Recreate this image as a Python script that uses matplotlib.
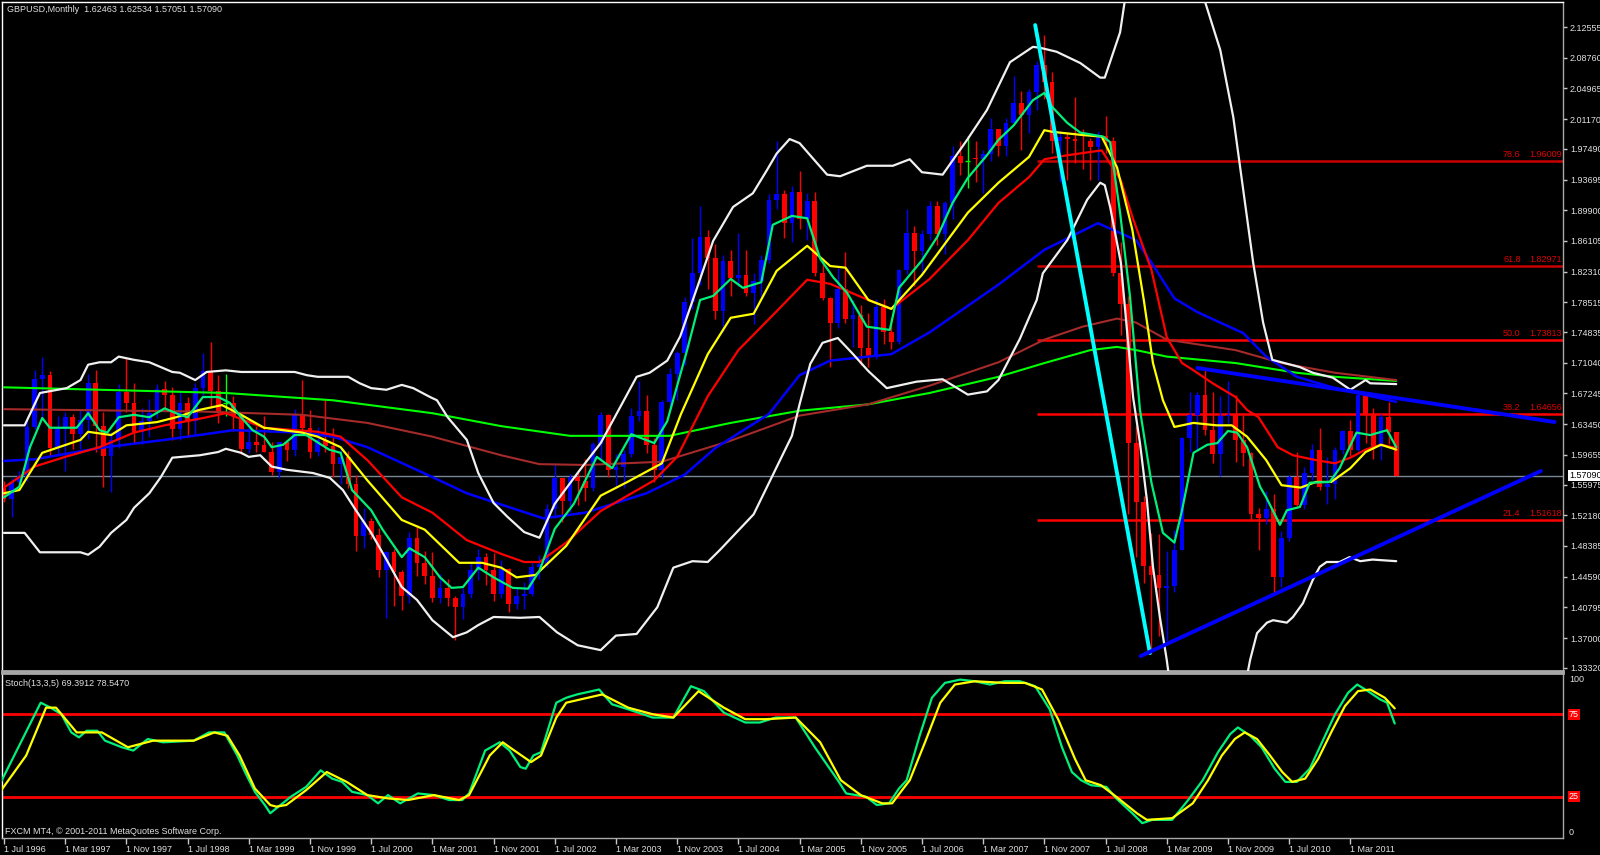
#!/usr/bin/env python3
"""GBPUSD monthly, MT4 black style: candles, moving averages, Bollinger bands,
fib levels, trend lines and a Stoch(13,3,5) pane underneath."""

import numpy as np
import matplotlib
matplotlib.use('Agg')
import matplotlib.pyplot as plt

# ── monthly bars, index 0 = Jul 1996 ... 182 = Sep 2011 ────────────────
opens = [
    1.5555, 1.5420, 1.5630, 1.5690, 1.6310, 1.6900,                                   # 1996
    1.6950, 1.6050, 1.6280, 1.6430, 1.6220, 1.6390, 1.6850, 1.6320, 1.5950, 1.6150, 1.6740, 1.6600,
    1.6250, 1.6380, 1.6480, 1.6780, 1.6710, 1.6290, 1.6600, 1.6380, 1.6790, 1.7000, 1.6760, 1.6600,
    1.6600, 1.6450, 1.6040, 1.6120, 1.6090, 1.6000, 1.5750, 1.6120, 1.6020, 1.6470, 1.6300, 1.6000,
    1.6150, 1.6080, 1.5850, 1.5940, 1.5600, 1.4960, 1.5150, 1.4970, 1.4540, 1.4760, 1.4520, 1.4220,
    1.4940, 1.4630, 1.4470, 1.4190, 1.4320, 1.4190, 1.4080, 1.4240, 1.4540, 1.4700, 1.4540, 1.4250,
    1.4550, 1.4120, 1.4220, 1.4240, 1.4580, 1.4610, 1.5300, 1.5680, 1.5400, 1.5690, 1.5640, 1.5560,
    1.6100, 1.6460, 1.5780, 1.5810, 1.5980, 1.6440, 1.6510, 1.6090, 1.5780, 1.6620, 1.6960, 1.7230,
    1.7860, 1.8210, 1.8660, 1.8400, 1.7750, 1.8360, 1.8150, 1.8190, 1.7970, 1.8120, 1.8380, 1.9120,
    1.9190, 1.8830, 1.9210, 1.8880, 1.9100, 1.8210, 1.7910, 1.7590, 1.8020, 1.7640, 1.7700, 1.7290,
    1.7190, 1.7790, 1.7480, 1.7360, 1.8250, 1.8710, 1.8490, 1.8690, 1.9040, 1.8700, 1.9080, 1.9660,
    1.9600, 1.9640, 1.9620, 1.9680, 1.9990, 1.9790, 2.0070, 2.0320, 2.0170, 2.0450, 2.0790, 2.0570,
    1.9850, 1.9890, 1.9870, 1.9850, 1.9840, 1.9770, 1.9910, 1.9850, 1.8210, 1.7830, 1.6110, 1.5380,
    1.4590, 1.4480, 1.4320, 1.4340, 1.4790, 1.6170, 1.6460, 1.6700, 1.6270, 1.5980, 1.6450, 1.6460,
    1.6150, 1.5990, 1.5230, 1.5180, 1.5300, 1.4460, 1.4940, 1.5690, 1.5340, 1.5740, 1.6030, 1.5570,
    1.5610, 1.6020, 1.6260, 1.6030, 1.6700, 1.6460, 1.6060, 1.6430, 1.62463,                  # 2011
]
highs = [
    1.5640, 1.5680, 1.5760, 1.6400, 1.7010, 1.7170,
    1.7000, 1.6440, 1.6500, 1.6470, 1.6530, 1.6960, 1.7010, 1.6500, 1.6250, 1.6840, 1.7160, 1.6850,
    1.6550, 1.6650, 1.6840, 1.6880, 1.6800, 1.6740, 1.6680, 1.6850, 1.7230, 1.7360, 1.6950, 1.6960,
    1.6690, 1.6480, 1.6420, 1.6320, 1.6440, 1.6130, 1.6120, 1.6140, 1.6530, 1.6890, 1.6520, 1.6310,
    1.6640, 1.6300, 1.6060, 1.6010, 1.5710, 1.5310, 1.5190, 1.5060, 1.4780, 1.4800, 1.4540, 1.5010,
    1.5100, 1.4780, 1.4760, 1.4490, 1.4430, 1.4220, 1.4320, 1.4640, 1.4800, 1.4750, 1.4750, 1.4660,
    1.4560, 1.4320, 1.4390, 1.4640, 1.4730, 1.5360, 1.5850, 1.5680, 1.5730, 1.5750, 1.5910, 1.6130,
    1.6500, 1.6470, 1.5980, 1.6030, 1.6540, 1.6880, 1.6700, 1.6170, 1.6640, 1.7040, 1.7250, 1.7920,
    1.8650, 1.9046, 1.8750, 1.8570, 1.8440, 1.8500, 1.8710, 1.8500, 1.8210, 1.8440, 1.9190, 1.9850,
    1.9245, 1.9290, 1.9480, 1.9200, 1.9220, 1.8400, 1.7920, 1.8280, 1.8475, 1.7880, 1.7820, 1.7720,
    1.7887, 1.7890, 1.7643, 1.8260, 1.9000, 1.8800, 1.8750, 1.9110, 1.9110, 1.9100, 1.9780, 1.9850,
    1.9914, 1.9845, 1.9732, 2.0133, 2.0000, 2.0130, 2.0656, 2.0465, 2.0490, 2.0835, 2.1161, 2.0697,
    1.9970, 1.9953, 2.0395, 2.0000, 1.9880, 1.9970, 2.0157, 1.9900, 1.8600, 1.7930, 1.6320, 1.5450,
    1.5000, 1.4985, 1.4780, 1.5031, 1.6190, 1.6744, 1.6742, 1.7043, 1.6745, 1.6693, 1.6877, 1.6705,
    1.6458, 1.6000, 1.5312, 1.5523, 1.5485, 1.5028, 1.5720, 1.5995, 1.5818, 1.6105, 1.6298, 1.5936,
    1.6060, 1.6278, 1.6402, 1.6746, 1.6745, 1.6546, 1.6475, 1.6618, 1.62534,
]
lows = [
    1.5380, 1.5200, 1.5550, 1.5640, 1.6280, 1.6420,
    1.5950, 1.5980, 1.5770, 1.6040, 1.6040, 1.6160, 1.6000, 1.5570, 1.5510, 1.6050, 1.6500, 1.6100,
    1.6100, 1.6180, 1.6420, 1.6540, 1.6150, 1.6150, 1.6190, 1.6220, 1.6700, 1.6550, 1.6360, 1.6440,
    1.6260, 1.5980, 1.5990, 1.6000, 1.6000, 1.5720, 1.5680, 1.5890, 1.5950, 1.6250, 1.5920, 1.5950,
    1.6000, 1.5690, 1.5600, 1.5550, 1.4770, 1.4810, 1.4930, 1.4450, 1.3950, 1.4100, 1.4050, 1.4130,
    1.4470, 1.4370, 1.4150, 1.4130, 1.4090, 1.3680, 1.3940, 1.4190, 1.4420, 1.4350, 1.4160, 1.4200,
    1.4020, 1.4060, 1.4060, 1.4220, 1.4430, 1.4580, 1.5190, 1.5130, 1.5260, 1.5350, 1.5390, 1.5520,
    1.5890, 1.5690, 1.5560, 1.5550, 1.5940, 1.6380, 1.5990, 1.5630, 1.5680, 1.6520, 1.6640, 1.7080,
    1.7770, 1.8070, 1.8020, 1.7640, 1.7480, 1.7930, 1.8050, 1.7930, 1.7580, 1.7900, 1.8340, 1.9000,
    1.8650, 1.8600, 1.8760, 1.8620, 1.8180, 1.7880, 1.7050, 1.7530, 1.7590, 1.7300, 1.7080, 1.7050,
    1.7145, 1.7335, 1.7275, 1.7330, 1.8200, 1.8050, 1.8200, 1.8620, 1.8565, 1.8450, 1.8880, 1.9430,
    1.9260, 1.9340, 1.9198, 1.9600, 1.9660, 1.9660, 2.0060, 1.9735, 1.9945, 2.0225, 2.0364, 1.9700,
    1.9340, 1.9360, 1.9575, 1.9502, 1.9360, 1.9365, 1.9702, 1.8174, 1.7450, 1.5230, 1.4700, 1.4380,
    1.3503, 1.3720, 1.3657, 1.4271, 1.4786, 1.5997, 1.6019, 1.6213, 1.5858, 1.5708, 1.6358, 1.5880,
    1.5833, 1.5151, 1.4784, 1.5105, 1.4229, 1.4328, 1.4900, 1.5330, 1.5295, 1.5650, 1.5536, 1.5351,
    1.5420, 1.5977, 1.5951, 1.6012, 1.6113, 1.5910, 1.5904, 1.6102, 1.57051,
]
closes = [
    1.5420, 1.5630, 1.5700, 1.6310, 1.6900, 1.6950,
    1.6050, 1.6280, 1.6430, 1.6220, 1.6390, 1.6850, 1.6320, 1.5950, 1.6150, 1.6740, 1.6600, 1.6250,
    1.6380, 1.6480, 1.6780, 1.6710, 1.6290, 1.6600, 1.6380, 1.6790, 1.7000, 1.6760, 1.6490, 1.6600,
    1.6450, 1.6040, 1.6120, 1.6090, 1.6000, 1.5750, 1.6120, 1.6020, 1.6470, 1.6300, 1.6000, 1.6150,
    1.6080, 1.5850, 1.5940, 1.5600, 1.4960, 1.5150, 1.4970, 1.4540, 1.4760, 1.4520, 1.4220, 1.4940,
    1.4630, 1.4470, 1.4190, 1.4320, 1.4190, 1.4080, 1.4240, 1.4540, 1.4700, 1.4540, 1.4250, 1.4550,
    1.4120, 1.4220, 1.4240, 1.4580, 1.4610, 1.5300, 1.5680, 1.5400, 1.5690, 1.5640, 1.5560, 1.6100,
    1.6460, 1.5780, 1.5810, 1.5980, 1.6440, 1.6510, 1.6090, 1.5780, 1.6620, 1.6960, 1.7230, 1.7860,
    1.8210, 1.8660, 1.8400, 1.7750, 1.8360, 1.8150, 1.8190, 1.7970, 1.8120, 1.8380, 1.9120, 1.9190,
    1.8830, 1.9210, 1.8880, 1.9100, 1.8210, 1.7910, 1.7590, 1.8020, 1.7640, 1.7700, 1.7290, 1.7190,
    1.7790, 1.7480, 1.7360, 1.8250, 1.8710, 1.8490, 1.8690, 1.9040, 1.8700, 1.9080, 1.9660, 1.9580,
    1.9600, 1.9620, 1.9680, 1.9990, 1.9790, 2.0070, 2.0320, 2.0170, 2.0450, 2.0790, 2.0570, 1.9850,
    1.9890, 1.9870, 1.9850, 1.9840, 1.9770, 1.9910, 1.9850, 1.8210, 1.7830, 1.6110, 1.5380, 1.4590,
    1.4480, 1.4320, 1.4340, 1.4790, 1.6170, 1.6460, 1.6700, 1.6270, 1.5980, 1.6450, 1.6460, 1.6150,
    1.5990, 1.5230, 1.5180, 1.5300, 1.4460, 1.4940, 1.5690, 1.5340, 1.5740, 1.6030, 1.5570, 1.5610,
    1.6020, 1.6260, 1.6030, 1.6700, 1.6460, 1.6060, 1.6430, 1.6246, 1.57090,
]

# ── indicator lines: (bar, price) ──────────────────────────────────────
ma_fast = [  # spring green
    (0, 1.544), (2, 1.557), (3.4, 1.606), (5, 1.642), (6, 1.630), (9.5, 1.630), (11, 1.648),
    (12.5, 1.627), (13.5, 1.624), (15, 1.643), (17, 1.646), (19, 1.643), (21, 1.654), (23, 1.646),
    (24, 1.643), (26, 1.668), (28, 1.668), (29.5, 1.661), (31, 1.643), (32.5, 1.627), (34, 1.619),
    (35, 1.606), (36.5, 1.609), (38, 1.621), (39.5, 1.621), (42.5, 1.603), (44, 1.599), (45.5, 1.553),
    (48, 1.528), (49.5, 1.504), (52, 1.470), (53, 1.481), (55, 1.470), (57, 1.445), (58.5, 1.432),
    (60, 1.433), (62, 1.457), (64, 1.445), (66.5, 1.432), (68.5, 1.431), (70, 1.453), (72, 1.505),
    (74.5, 1.536), (77.5, 1.594), (79.5, 1.580), (82, 1.622), (85, 1.611), (86.7, 1.638), (89.3, 1.726),
    (91, 1.788), (92.7, 1.793), (95, 1.814), (96.6, 1.803), (99, 1.810), (100.5, 1.881), (103, 1.892),
    (105, 1.889), (106.7, 1.839), (108.4, 1.816), (110.2, 1.797), (112.8, 1.755), (115.8, 1.751),
    (117, 1.803), (120, 1.837), (122, 1.866), (124, 1.908), (126, 1.939), (128.5, 1.967), (130, 1.986),
    (132, 2.004), (134.5, 2.035), (136, 2.044), (137, 2.027), (139, 2.007), (140.7, 1.995),
    (143.7, 1.990), (144.6, 1.983), (145.9, 1.896), (147.2, 1.792), (148.5, 1.652), (150, 1.562),
    (151.5, 1.500), (153, 1.488), (154, 1.528), (155.5, 1.599), (157.3, 1.609), (158.6, 1.611),
    (160, 1.626), (161.2, 1.624), (162.5, 1.606), (164.2, 1.557), (165, 1.544), (166.8, 1.510),
    (167.7, 1.528), (169.4, 1.532), (170.7, 1.562), (173.3, 1.563), (174.6, 1.580), (176.8, 1.624),
    (178.6, 1.621), (180.8, 1.627), (182, 1.606),
]
ma_yellow = [
    (0, 1.549), (2, 1.553), (5, 1.599), (10, 1.615), (11, 1.625), (14, 1.621), (16, 1.633),
    (20, 1.637), (22.5, 1.643), (25.5, 1.652), (28.5, 1.658), (31, 1.646), (34, 1.630), (39, 1.624),
    (41, 1.619), (44, 1.606), (47.5, 1.565), (52, 1.516), (55, 1.504), (59.5, 1.463), (62.5, 1.463),
    (65, 1.457), (67, 1.445), (69.5, 1.448), (73.5, 1.484), (78, 1.546), (81.5, 1.563), (86, 1.586),
    (88.5, 1.647), (92, 1.721), (95, 1.766), (98, 1.771), (101, 1.824), (105, 1.855), (108, 1.830),
    (110, 1.828), (113, 1.788), (116, 1.777), (120, 1.819), (126, 1.896), (130, 1.933), (134, 1.965),
    (136, 1.998), (137, 1.996), (141, 1.992), (143.5, 1.990), (145.5, 1.952), (147.5, 1.875),
    (149, 1.788), (150.2, 1.710), (151.5, 1.664), (153, 1.631), (155.5, 1.636), (158.5, 1.633),
    (160.5, 1.633), (162.5, 1.619), (165, 1.590), (167, 1.559), (169.5, 1.556), (171.5, 1.563),
    (173.5, 1.563), (176, 1.580), (178, 1.600), (180, 1.609), (182, 1.603),
]
ma_red = [
    (0, 1.556), (4, 1.582), (8, 1.594), (12.5, 1.606), (17, 1.624), (21, 1.633), (26, 1.642),
    (29, 1.648), (34, 1.630), (41, 1.625), (44, 1.619), (47.5, 1.590), (52, 1.544), (56, 1.525),
    (60.5, 1.491), (65, 1.474), (68, 1.464), (70, 1.464), (73.5, 1.488), (78, 1.527), (85, 1.565),
    (88, 1.594), (92, 1.669), (96, 1.726), (101, 1.774), (105, 1.813), (108, 1.808), (113, 1.788),
    (116, 1.777), (121, 1.814), (126, 1.862), (130, 1.908), (134, 1.940), (136, 1.962), (139, 1.967),
    (143.5, 1.973), (146, 1.936), (147.5, 1.891), (150, 1.825), (152, 1.742), (154, 1.710),
    (155.5, 1.701), (158, 1.685), (161, 1.668), (162.5, 1.652), (164, 1.643), (166.5, 1.606),
    (168.5, 1.596), (171.5, 1.590), (174, 1.586), (176, 1.593), (178, 1.603), (180, 1.609), (182, 1.605),
]
ma_blue = [
    (0, 1.589), (4, 1.591), (12.5, 1.605), (21, 1.615), (30, 1.627), (39, 1.624), (43, 1.619),
    (47.5, 1.606), (56, 1.569), (60.5, 1.549), (65, 1.535), (70.5, 1.518), (76, 1.525), (84, 1.549),
    (89, 1.572), (93, 1.605), (100, 1.647), (104, 1.695), (108, 1.713), (116, 1.721), (121, 1.748),
    (130, 1.807), (136, 1.850), (143, 1.883), (148, 1.862), (150, 1.834), (153, 1.790), (156, 1.773),
    (162, 1.747), (165, 1.718), (169, 1.693), (174, 1.679), (182, 1.662),
]
ma_brown = [
    (0, 1.653), (26, 1.650), (39, 1.646), (47.5, 1.636), (56, 1.619), (65, 1.596), (70, 1.585),
    (76, 1.584), (86, 1.588), (95, 1.614), (104, 1.645), (113, 1.659), (121, 1.682), (130, 1.711),
    (136, 1.739), (141, 1.755), (145.5, 1.765), (148, 1.760), (152, 1.739), (161, 1.726),
    (167, 1.710), (174, 1.698), (182, 1.689),
]
ma_lime = [
    (0, 1.680), (12.5, 1.677), (29, 1.673), (43, 1.664), (56, 1.648), (65, 1.632), (74, 1.620),
    (87, 1.620), (95, 1.636), (104, 1.651), (113, 1.659), (121, 1.673), (130, 1.693), (136, 1.710),
    (142, 1.726), (145.5, 1.730), (148, 1.726), (152, 1.718), (161, 1.710), (165, 1.704),
    (169, 1.698), (174, 1.693), (182, 1.688),
]
bb_upper = [
    (0, 1.633), (2.7, 1.633), (4.7, 1.673), (8.2, 1.679), (10, 1.689), (11, 1.708), (12.5, 1.711),
    (14, 1.711), (15, 1.718), (17, 1.714), (19, 1.711), (20.5, 1.705), (22, 1.699), (23, 1.698),
    (25, 1.689), (25.6, 1.693), (26.5, 1.699), (29, 1.701), (31, 1.699), (38, 1.699), (39.6, 1.695),
    (41, 1.693), (45, 1.693), (46.5, 1.685), (48, 1.679), (50, 1.677), (52, 1.683), (53.5, 1.679),
    (55.7, 1.668), (56.6, 1.664), (58, 1.643), (60.5, 1.615), (62, 1.574), (64, 1.537), (65.8, 1.520),
    (68, 1.501), (70, 1.494), (72, 1.536), (75.3, 1.578), (78, 1.611), (82.7, 1.693), (84.4, 1.698),
    (86.7, 1.713), (88.4, 1.743), (91, 1.814), (92.7, 1.861), (95.3, 1.903), (97.9, 1.920),
    (99.7, 1.948), (101, 1.969), (102.7, 1.987), (104, 1.982), (107.6, 1.943), (109.3, 1.941),
    (112.8, 1.954), (116.2, 1.954), (118.4, 1.962), (120, 1.946), (122.7, 1.943), (125.9, 1.986),
    (128.5, 2.023), (131.5, 2.082), (134.5, 2.101), (135.4, 2.100), (137.6, 2.095), (140.7, 2.081),
    (143.3, 2.063), (143.9, 2.063), (145.9, 2.119), (146.5, 2.157), (149, 2.33), (153, 2.40),
    (156, 2.30), (157, 2.157), (159, 2.097), (160.7, 2.014), (163.3, 1.834), (164.6, 1.760),
    (165.8, 1.714), (169.4, 1.705), (171.1, 1.698), (173.7, 1.692), (176, 1.677), (178, 1.689),
    (178.6, 1.685), (182, 1.684),
]
bb_lower = [
    (0, 1.500), (2.7, 1.500), (4.7, 1.476), (10, 1.476), (11, 1.473), (12.5, 1.483), (14, 1.500),
    (16, 1.516), (17, 1.531), (19, 1.549), (20.5, 1.569), (22, 1.593), (25.6, 1.596), (28, 1.600),
    (29, 1.604), (31, 1.599), (32, 1.594), (33.5, 1.596), (35, 1.582), (37, 1.578), (40.4, 1.574),
    (42.6, 1.568), (44.3, 1.553), (46, 1.528), (48, 1.500), (50, 1.467), (52, 1.433), (54, 1.417),
    (56, 1.392), (58.7, 1.371), (60.5, 1.377), (62, 1.386), (64, 1.396), (67.5, 1.395), (70, 1.396),
    (72.3, 1.377), (75, 1.361), (78, 1.355), (80, 1.373), (82.7, 1.375), (85.4, 1.408), (87.5, 1.457),
    (90, 1.465), (92, 1.464), (93.6, 1.479), (98, 1.523), (101.4, 1.589), (103, 1.620), (104, 1.659),
    (105.4, 1.709), (107, 1.735), (109, 1.741), (111, 1.721), (113, 1.700), (115.4, 1.679),
    (119.3, 1.687), (122.7, 1.690), (126, 1.671), (128.5, 1.675), (130, 1.689), (132.8, 1.740),
    (135, 1.788), (135.8, 1.821), (139, 1.862), (141.6, 1.912), (143.3, 1.933), (143.9, 1.930),
    (144.6, 1.903), (146, 1.834), (146.8, 1.751), (147.6, 1.668), (148.5, 1.611), (149.4, 1.541),
    (150.2, 1.458), (151.1, 1.396), (152, 1.343), (154, 1.20), (158, 1.15), (161, 1.25),
    (162.9, 1.343), (163.8, 1.376), (165.1, 1.389), (165.9, 1.392), (167.7, 1.389), (168.5, 1.396),
    (169.8, 1.413), (171.1, 1.442), (172, 1.458), (172.9, 1.464), (174.6, 1.464), (175.9, 1.470),
    (177.3, 1.465), (178.9, 1.467), (182, 1.465),
]

# ── objects drawn on the chart ─────────────────────────────────────────
fib_levels = [(78.6, 1.96009), (61.8, 1.82971), (50.0, 1.73813), (38.2, 1.64656), (21.4, 1.51618)]
fib_start = 135
cyan_line = [(134.8, 2.128), (149.8, 1.3514)]
trend_upper = [(156.0, 1.7039), (202.7, 1.6371)]
trend_lower = [(148.6, 1.3477), (200.9, 1.5765)]
last_price = 1.57090

price_ticks = [2.12555, 2.08760, 2.04965, 2.01170, 1.97490, 1.93695, 1.89900, 1.86105,
               1.82310, 1.78515, 1.74835, 1.71040, 1.67245, 1.63450, 1.59655, 1.55975,
               1.52180, 1.48385, 1.44590, 1.40795, 1.37000, 1.33320]
date_ticks = [0, 8, 16, 24, 32, 40, 48, 56, 64, 72, 80, 88, 96, 104, 112, 120, 128, 136,
              144, 152, 160, 168, 176]
date_labels = ['1 Jul 1996', '1 Mar 1997', '1 Nov 1997', '1 Jul 1998', '1 Mar 1999',
               '1 Nov 1999', '1 Jul 2000', '1 Mar 2001', '1 Nov 2001', '1 Jul 2002',
               '1 Mar 2003', '1 Nov 2003', '1 Jul 2004', '1 Mar 2005', '1 Nov 2005',
               '1 Jul 2006', '1 Mar 2007', '1 Nov 2007', '1 Jul 2008', '1 Mar 2009',
               '1 Nov 2009', '1 Jul 2010', '1 Mar 2011']

# ── Stoch(13,3,5): (bar, value) ───────────────────────────────────────
stoch_k = [
    (-0.5, 33), (4.8, 82), (6.1, 79), (7.5, 75), (8.8, 64), (9.8, 61), (10.8, 65), (12.2, 65),
    (13.2, 59), (15.4, 55), (16.9, 53), (18.8, 60), (20.8, 58), (24.8, 59), (26.8, 64), (28.8, 64),
    (30.5, 50), (31.5, 40), (32.8, 28), (34.1, 20), (34.8, 15), (37.5, 25), (39.5, 31), (41.4, 41),
    (42.9, 36), (44.2, 34), (45.5, 28), (47.5, 26), (48.9, 21), (50.2, 26), (51.8, 21), (54.1, 27),
    (56.2, 26), (58.2, 23), (59.9, 23), (60.8, 27), (62.9, 53), (64.8, 58), (66.1, 53), (67.5, 43),
    (68.2, 42), (69.2, 50), (70.2, 52), (72.2, 82), (73.5, 85), (74.9, 87), (77.8, 90), (79.5, 81),
    (81.6, 78), (84.8, 73), (87.5, 73), (89.8, 92), (91.5, 89), (94.1, 76), (96.9, 70), (98.8, 70),
    (100.9, 73), (103.5, 73), (106, 55), (109, 35), (110.1, 27), (112.7, 25), (114.1, 20),
    (115.7, 21), (117, 30), (118, 35), (119.7, 62), (121.3, 85), (123, 94), (125, 96), (126.9, 95),
    (128.9, 93), (130.8, 95), (132.8, 95), (134.8, 92), (136.7, 78), (138.3, 55), (139.6, 40),
    (140.8, 35), (142.1, 32), (144.1, 31), (145.4, 24), (147.5, 15), (148.8, 9), (150.1, 11),
    (152.7, 11), (154.8, 23), (156.7, 35), (158.7, 52), (160.3, 63), (161.3, 67), (162.9, 62),
    (164.4, 55), (166.1, 42), (167.5, 34), (169, 34), (170.7, 42), (172.3, 58), (174, 75),
    (175.7, 88), (176.9, 93), (178.3, 89), (179.9, 84), (180.8, 82), (181.8, 69.39),
]
stoch_d = [
    (-0.5, 28), (2.9, 50), (5.5, 79), (6.8, 79), (9.5, 64), (10.8, 64), (12.8, 64), (16.2, 55),
    (19.5, 59), (24.8, 59), (27.5, 64), (29.2, 62), (30.8, 50), (32.8, 30), (34.8, 20), (35.6, 19),
    (36.9, 20), (39.5, 29), (42.2, 40), (44.8, 34), (47.5, 26), (50.2, 24), (52.8, 23), (56.2, 26),
    (59.5, 23), (60.8, 26), (63.5, 50), (65.2, 58), (66.1, 55), (68.9, 46), (70.2, 50), (72.2, 73),
    (73.5, 82), (78.2, 87), (81.6, 79), (84.8, 75), (87.5, 73), (90.8, 89), (94.1, 79), (96.9, 72),
    (99.5, 72), (103.5, 73), (106.7, 58), (109.4, 35), (112, 26), (114.8, 21), (116.1, 21),
    (117.4, 29), (118.4, 35), (120.4, 58), (122.4, 82), (124.3, 93), (126.9, 95), (130.8, 94),
    (133.5, 94), (135.7, 90), (137.8, 72), (140, 48), (141.4, 35), (143.4, 32), (145.4, 25),
    (148.1, 15), (149.4, 11), (152.7, 12), (155.4, 21), (157.4, 35), (159.2, 50), (160.9, 60),
    (162.2, 64), (163.8, 60), (165.5, 50), (167.1, 40), (168.4, 34), (170.1, 36), (171.8, 48),
    (173.6, 65), (175.3, 80), (177, 89), (178.6, 90), (180.5, 85), (181.8, 78.55),
]
stoch_levels = [75, 25]

# ── figure ────────────────────────────────────────────────────────────
W, H = 1600, 855
TXT = '#E0E0E0'
FS = 6.5
plt.rcParams['font.family'] = ['Liberation Sans', 'DejaVu Sans']

fig = plt.figure(figsize=(W / 100, H / 100), dpi=100, facecolor='black')
ax = fig.add_axes([2 / W, 1 - 671 / H, 1561 / W, 669 / H], facecolor='black')
axs = fig.add_axes([2 / W, 1 - 838 / H, 1561 / W, 165 / H], facecolor='black')

XLIM = (-0.26, 203.8)
ax.set_xlim(*XLIM)
ax.set_ylim(1.3292, 2.1565)
axs.set_xlim(*XLIM)
axs.set_ylim(0, 100)

# price line + fib levels (behind the bars)
ax.axhline(last_price, color='#7A8794', lw=1, zorder=1)
for pct, lvl in fib_levels:
    col = '#C80000' if pct > 60 else '#FF0000'
    ax.hlines(lvl, fib_start, XLIM[1], color=col, lw=1.8, zorder=1)
    ax.annotate(f'{pct:.1f}', xy=((1503 - 2) / 1561, lvl), xycoords=('axes fraction', 'data'),
                xytext=(0, 2), textcoords='offset pixels', ha='left', va='bottom',
                color='#E00000', fontsize=FS)
    ax.annotate(f'{lvl:.5f}', xy=(1, lvl), xycoords=('axes fraction', 'data'),
                xytext=(-1, 2), textcoords='offset pixels', ha='right', va='bottom',
                color='#E00000', fontsize=FS)

# candles
x = np.arange(len(closes))
o, h, l, c = (np.array(v) for v in (opens, highs, lows, closes))
for mask, col in ((c > o, '#0000FF'), (c < o, '#FF0000')):
    ax.vlines(x[mask], l[mask], h[mask], color=col, lw=1, zorder=2)
    ax.bar(x[mask], np.abs(c - o)[mask], bottom=np.minimum(o, c)[mask], width=0.62,
           color=col, lw=0, zorder=2)
dj = c == o
ax.vlines(x[dj], l[dj], h[dj], color='#00FF00', lw=1, zorder=2)
ax.hlines(o[dj], x[dj] - 0.31, x[dj] + 0.31, color='#00FF00', lw=1, zorder=2)


def draw(axis, pts, color, lw, z=3):
    xs, ys = zip(*pts)
    axis.plot(xs, ys, color=color, lw=lw, zorder=z, solid_joinstyle='round',
              solid_capstyle='round')


draw(ax, ma_lime, '#00FF00', 1.5)
draw(ax, ma_brown, '#A52A2A', 1.5)
draw(ax, ma_blue, '#0000FF', 1.8)
draw(ax, bb_upper, '#F0F0F0', 1.6)
draw(ax, bb_lower, '#F0F0F0', 1.6)
draw(ax, ma_red, '#FF0000', 1.6)
draw(ax, ma_yellow, '#FFFF00', 1.6)
draw(ax, ma_fast, '#00F07A', 1.6)

draw(ax, cyan_line, '#00FFFF', 2.8, z=4)
draw(ax, trend_upper, '#0000FF', 2.8, z=4)
draw(ax, trend_lower, '#0000FF', 2.8, z=4)

# right price scale
ax.set_xticks([])
ax.yaxis.tick_right()
ax.set_yticks(price_ticks)
ax.set_yticklabels([f'{p:.5f}' for p in price_ticks])
ax.tick_params(axis='y', direction='out', length=3, width=1, color='#C8C8C8',
               labelcolor=TXT, labelsize=FS, pad=2)
ax.annotate(f'{last_price:.5f}', xy=(1, last_price), xycoords=('axes fraction', 'data'),
            xytext=(6, 0), textcoords='offset pixels', ha='left', va='center',
            color='black', fontsize=FS, annotation_clip=False,
            bbox=dict(boxstyle='square,pad=0.15', fc='white', ec='none'))

# stochastic pane
for lv in stoch_levels:
    axs.axhline(lv, color='#FF0000', lw=2, zorder=1)
    axs.annotate(str(lv), xy=(1, lv), xycoords=('axes fraction', 'data'),
                 xytext=(6, 0), textcoords='offset pixels', ha='left', va='center',
                 color='white', fontsize=FS, annotation_clip=False,
                 bbox=dict(boxstyle='square,pad=0.1', fc='#FF0000', ec='none'))
axs.annotate('100', xy=(1, 100), xycoords=('axes fraction', 'data'), xytext=(6, -2),
             textcoords='offset pixels', ha='left', va='top', color=TXT, fontsize=FS,
             annotation_clip=False)
axs.annotate('0', xy=(1, 0), xycoords=('axes fraction', 'data'), xytext=(6, 1),
             textcoords='offset pixels', ha='left', va='bottom', color=TXT, fontsize=FS,
             annotation_clip=False)
draw(axs, stoch_k, '#00F07A', 1.6)
draw(axs, stoch_d, '#FFFF00', 1.6)

axs.set_yticks([])
axs.set_xticks(date_ticks)
axs.set_xticklabels(date_labels, ha='left')
axs.tick_params(axis='x', direction='out', length=4, width=1, color='#C8C8C8',
                labelcolor=TXT, labelsize=FS, pad=1)

for a in (ax, axs):
    for s in a.spines.values():
        s.set_color('#A8A8A8')
        s.set_linewidth(1)
    a.spines['left'].set_color('white')
ax.spines['top'].set_color('white')
ax.spines['bottom'].set_linewidth(2)
axs.spines['top'].set_linewidth(2)

fig.text(7 / W, 1 - 10 / H, 'GBPUSD,Monthly  1.62463 1.62534 1.57051 1.57090',
         color=TXT, fontsize=FS, ha='left', va='center')
fig.text(5 / W, 1 - 683 / H, 'Stoch(13,3,5) 69.3912 78.5470',
         color=TXT, fontsize=FS, ha='left', va='center')
fig.text(5 / W, 1 - 831 / H, 'FXCM MT4, \u00a9 2001-2011 MetaQuotes Software Corp.',
         color=TXT, fontsize=FS, ha='left', va='center')

fig.savefig('out.png', dpi=100, facecolor='black')
